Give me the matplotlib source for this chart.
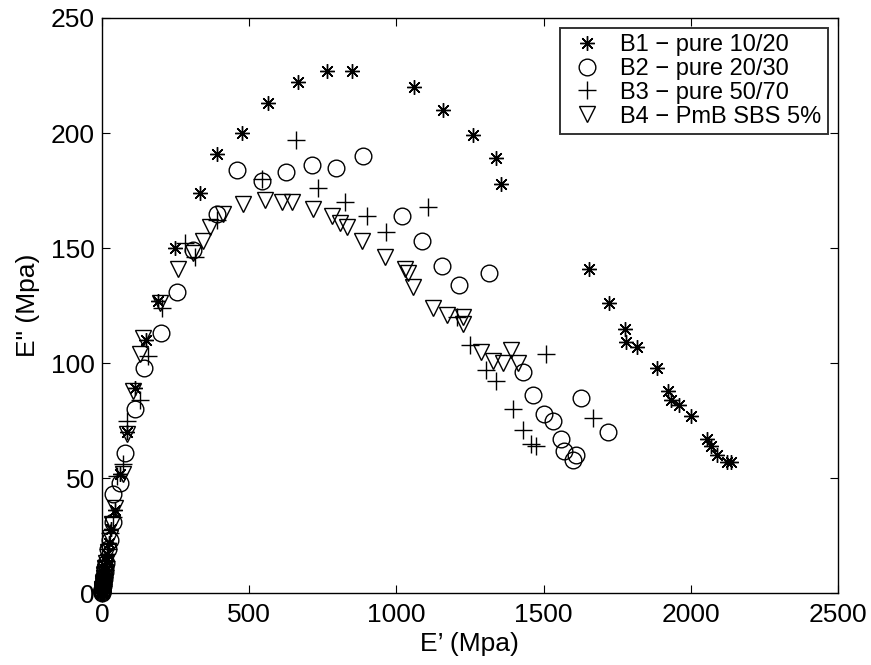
import numpy as np
import matplotlib
matplotlib.use("Agg")
import matplotlib.pyplot as plt

# ============================================================
# DATA
# ============================================================

b1_x = [0.2, 0.5, 1, 1.5, 2, 3, 4, 5, 7, 8, 10, 12, 14, 18, 24, 32, 45, 62, 85,
        112, 150, 190, 248,
        333, 392, 476, 565, 667, 765, 850, 1061, 1160, 1259, 1337, 1357,
        1656, 1724, 1776, 1779, 1816, 1884, 1922, 1932, 1959, 2000,
        2054, 2068, 2088, 2122, 2136]
b1_y = [0.2, 0.5, 1, 1.5, 2, 3, 4, 5, 6.5, 8, 10, 12, 14, 17, 22, 28, 36, 52, 70,
        89, 110, 127, 150,
        174, 191, 200, 213, 222, 227, 227, 220, 210, 199, 189, 178,
        141, 126, 115, 109, 107, 98, 88, 84, 82, 77,
        67, 64, 60, 57, 57]

b2_x = [0.2, 0.5, 1, 1.5, 2, 3, 4, 5, 7, 8, 10, 12, 14, 20, 28, 37, 37, 61, 78,
        112, 143, 200, 255, 310,
        391, 460, 544, 626, 714, 796, 888,
        1020, 1088, 1156, 1214, 1316,
        1429, 1466, 1500, 1531, 1558, 1568, 1599, 1609, 1626, 1718]
b2_y = [0.2, 0.5, 1, 1.5, 2, 3, 4, 4.5, 6, 7.5, 9, 11, 13, 19, 23, 31, 43, 48, 61,
        80, 98, 113, 131, 149,
        165, 184, 179, 183, 186, 185, 190,
        164, 153, 142, 134, 139,
        96, 86, 78, 75, 67, 62, 58, 60, 85, 70]

b3_x = [0.2, 0.5, 1, 1.5, 2, 3, 4, 5, 7, 8, 10, 12, 14, 20, 28, 36, 51, 71, 85,
        129, 156, 204, 282, 316,
        391, 544, 660, 735, 826, 901, 966, 1109,
        1207, 1252, 1306, 1337, 1395, 1429, 1456, 1476, 1507, 1667]
b3_y = [0.2, 0.5, 1, 1.5, 2, 3, 4, 5, 7, 8.5, 10, 12, 14, 19, 26, 33, 51, 56, 75,
        84, 103, 124, 152, 146,
        162, 180, 197, 176, 170, 164, 157, 168,
        120, 108, 97, 92, 80, 71, 65, 64, 104, 76]

b4_x = [0.2, 0.5, 1, 1.5, 2, 3, 4, 5, 7, 8, 10, 12, 14, 20, 27, 34, 44, 71, 84,
        105, 129, 139, 197,
        258, 310, 344, 367, 412, 480, 554, 612, 646, 718, 782, 810, 833, 884,
        963, 1031, 1041, 1058, 1126, 1173, 1228, 1228,
        1286, 1327, 1364, 1391, 1415]
b4_y = [0.2, 0.5, 1, 1.5, 2, 3, 4, 4.5, 6.5, 8, 9, 11, 13, 18, 24, 30, 37, 52, 69,
        88, 104, 111, 126,
        141, 148, 153, 159, 165, 169, 171, 170, 170, 167, 164, 161, 159, 153,
        146, 141, 139, 133, 124, 121, 120, 117,
        105, 101, 100, 105.5, 100]

labels = ["B1 \u2212 pure 10/20", "B2 \u2212 pure 20/30",
          "B3 \u2212 pure 50/70", "B4 \u2212 PmB SBS 5%"]

# ============================================================
# PLOT
# ============================================================

plt.rcParams["font.family"] = ["Liberation Sans", "DejaVu Sans"]

fig = plt.figure(figsize=(8.71, 6.65), dpi=100)
ax = fig.add_axes([0.117, 0.108, 0.845, 0.865])

ax.plot(b1_x, b1_y, linestyle="none", marker=(8, 2, 0), markersize=10.5,
        color="black", markeredgewidth=1.0, label=labels[0], clip_on=False)
ax.plot(b2_x, b2_y, linestyle="none", marker="o", markersize=12,
        markerfacecolor="none", markeredgecolor="black", markeredgewidth=1.0,
        label=labels[1], clip_on=False)
ax.plot(b3_x, b3_y, linestyle="none", marker="+", markersize=12.5,
        color="black", markeredgewidth=1.0, label=labels[2], clip_on=False)
ax.plot(b4_x, b4_y, linestyle="none", marker="v", markersize=12,
        markerfacecolor="none", markeredgecolor="black", markeredgewidth=1.0,
        label=labels[3], clip_on=False)

ax.set_xlim(0, 2500)
ax.set_ylim(0, 250)
ax.set_xticks([0, 500, 1000, 1500, 2000, 2500])
ax.set_yticks([0, 50, 100, 150, 200, 250])
ax.tick_params(direction="in", top=True, right=True, labelsize=19, length=6,
               width=0.8)
ax.tick_params(axis="x", pad=7)
ax.tick_params(axis="y", pad=5)
for s in ax.spines.values():
    s.set_linewidth(1.0)

ax.set_xlabel("E\u2019 (Mpa)", fontsize=19, labelpad=4)
ax.set_ylabel('E" (Mpa)', fontsize=19, labelpad=8)

leg = ax.legend(loc="upper right", fontsize=17, frameon=True, fancybox=False,
                edgecolor="black", borderpad=0.25, labelspacing=0.08,
                handletextpad=0.5, handlelength=1.8,
                bbox_to_anchor=(1.002, 1.003))
leg.get_frame().set_linewidth(1.4)

fig.savefig("out.png", dpi=100)
